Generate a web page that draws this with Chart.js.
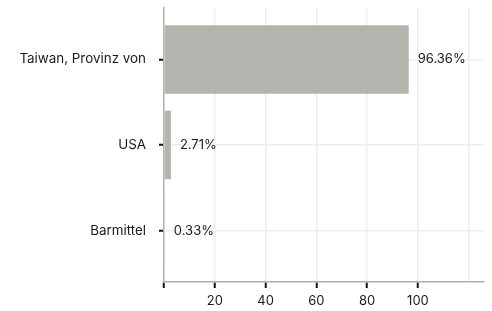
<!DOCTYPE html>
<html>
<head>
<meta charset="utf-8">
<script src="https://cdn.jsdelivr.net/npm/chart.js@4/dist/chart.umd.min.js"></script>
<style>
  html, body { margin: 0; padding: 0; background: #fff; }
  #wrap { width: 492px; height: 311px; }
</style>
</head>
<body>
<div id="wrap"><canvas id="chart"></canvas></div>
<script>
var categories = ['Taiwan, Provinz von', 'USA', 'Barmittel'];
var shares = [96.36, 2.71, 0.33];
var valueLabels = ['96.36%', '2.71%', '0.33%'];
var xTicks = [0, 20, 40, 60, 80, 100, 120];

// value labels just right of each bar
var barLabels = {
    id: 'barLabels',
    afterDatasetsDraw: function (chart) {
        var ctx = chart.ctx;
        var meta = chart.getDatasetMeta(0);
        ctx.save();
        ctx.font = '13px Inter';
        ctx.fillStyle = '#1a1a1a';
        ctx.textBaseline = 'middle';
        ctx.textAlign = 'left';
        meta.data.forEach(function (bar, i) {
            ctx.fillText(valueLabels[i], bar.x + 9, bar.y);
        });
        ctx.restore();
    }
};

var ctx = document.getElementById('chart').getContext('2d');
var chart = new Chart(ctx, {
    type: 'bar',
    data: {
        datasets: [{
            data: shares.map(function (v, i) { return { x: v, y: i }; }),
            backgroundColor: '#b4b3ae',
            borderWidth: 0,
            barPercentage: 0.8,
            categoryPercentage: 1
        }]
    },
    options: {
        indexAxis: 'y',
        responsive: true,
        maintainAspectRatio: false,
        animation: false,
        layout: { padding: { top: 8, right: 8 } },
        scales: {
            x: {
                type: 'linear',
                min: 0,
                max: 126,
                offset: false,
                afterBuildTicks: function (scale) {
                    scale.ticks = xTicks.map(function (v) { return { value: v }; });
                },
                afterFit: function (scale) {
                    scale.height = 29;
                    scale.paddingLeft = 0;
                    scale.paddingRight = 0;
                },
                border: { color: '#b0b0ab', width: 1.5 },
                grid: {
                    offset: false,
                    color: function (c) { return c.tick && c.tick.value === 0 ? 'transparent' : '#ededed'; },
                    lineWidth: 1.5,
                    tickLength: 6,
                    tickWidth: 2,
                    tickColor: function (c) { return c.tick && c.tick.value > 100 ? 'transparent' : '#111'; }
                },
                ticks: {
                    padding: 5,
                    color: '#1a1a1a',
                    font: { family: 'Inter', size: 13 },
                    callback: function (value) {
                        return (value === 0 || value > 100) ? '' : value;
                    }
                }
            },
            y: {
                type: 'linear',
                reverse: true,
                min: -0.6,
                max: 2.6,
                offset: false,
                afterBuildTicks: function (scale) {
                    scale.ticks = categories.map(function (c, i) { return { value: i }; });
                },
                afterFit: function (scale) {
                    scale.width = 164;
                    scale.paddingTop = 0;
                    scale.paddingBottom = 0;
                },
                border: { color: '#b0b0ab', width: 1.5 },
                grid: {
                    offset: false,
                    color: '#ededed',
                    lineWidth: 1.5,
                    tickLength: 5,
                    tickWidth: 2,
                    tickColor: '#111'
                },
                ticks: {
                    padding: 13,
                    color: '#1a1a1a',
                    font: { family: 'Inter', size: 13.4 },
                    callback: function (value) { return categories[value]; }
                }
            }
        },
        plugins: {
            legend: { display: false },
            tooltip: { enabled: false }
        }
    },
    plugins: [barLabels]
});
</script>
</body>
</html>
